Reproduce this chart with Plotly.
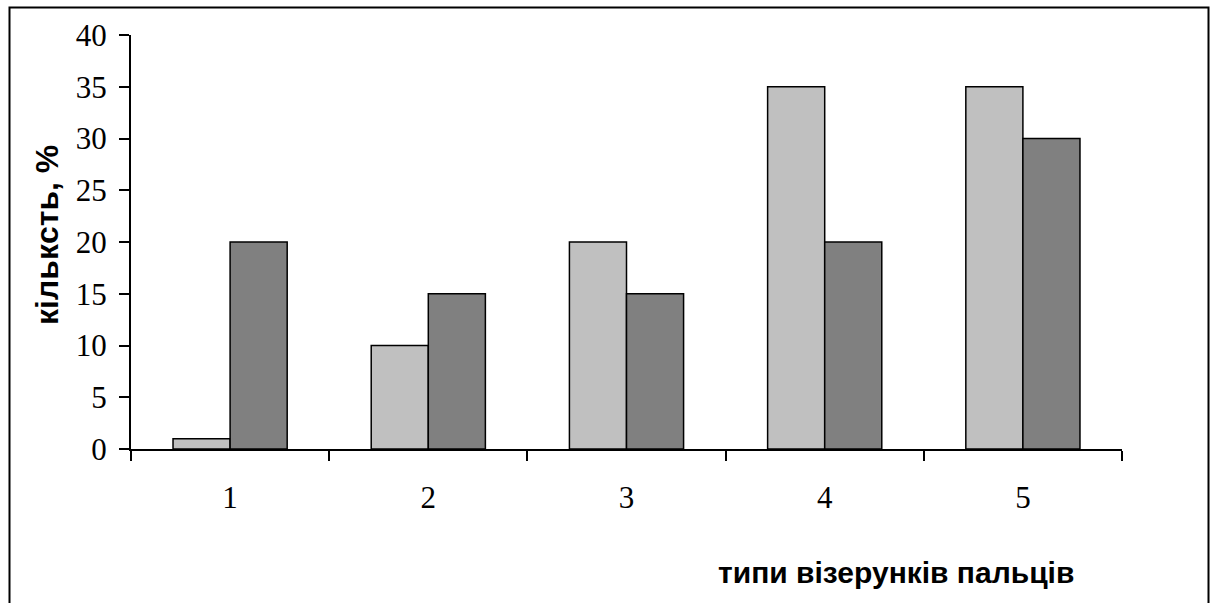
import plotly.graph_objects as go

categories = ["1", "2", "3", "4", "5"]
series_light = [1, 10, 20, 35, 35]
series_dark = [20, 15, 15, 20, 30]
y_ticks = [0, 5, 10, 15, 20, 25, 30, 35, 40]

W, H = 1212, 603
L, R, T, B = 131, 90, 35, 154
pw, ph = W - L - R, H - T - B

fig = go.Figure()
fig.add_trace(go.Bar(x=categories, y=series_light, marker=dict(color="#C0C0C0", line=dict(color="black", width=1.5)), showlegend=False))
fig.add_trace(go.Bar(x=categories, y=series_dark, marker=dict(color="#808080", line=dict(color="black", width=1.5)), showlegend=False))

def px(x):
    return (x - L) / pw

def py(y):
    return (H - B - y) / ph

fig.add_shape(type="rect", xref="paper", yref="paper",
              x0=px(9.5), x1=px(1208.5), y0=py(620), y1=py(7.5),
              line=dict(color="black", width=2), fillcolor="rgba(0,0,0,0)", layer="below")

fig.update_layout(
    width=W, height=H,
    margin=dict(l=L, r=R, t=T, b=B, pad=0),
    paper_bgcolor="white", plot_bgcolor="white",
    barmode="group", bargap=0.424, bargroupgap=0,
    xaxis=dict(type="category", range=[-0.5, 4.5], showline=True, linecolor="black", linewidth=2,
               ticks="outside", tickson="boundaries", ticklen=10, tickwidth=2, tickcolor="black",
               showgrid=False, zeroline=False, ticklabelstandoff=20,
               tickfont=dict(family="Liberation Serif", size=31, color="black")),
    yaxis=dict(range=[0, 40], tickvals=y_ticks, showline=True, linecolor="black", linewidth=2,
               ticks="outside", ticklen=10, tickwidth=2, tickcolor="black",
               showgrid=False, zeroline=False, ticklabelstandoff=6,
               tickfont=dict(family="Liberation Serif", size=31, color="black")),
    annotations=[
        dict(text="<b>кількcть, %</b>", xref="paper", yref="paper", x=px(47), y=py(235),
             xanchor="center", yanchor="middle",
             textangle=-90, showarrow=False, font=dict(family="Liberation Sans", size=32, color="black")),
        dict(text="<b>типи візерунків пальців</b>", xref="paper", yref="paper", x=px(896), y=py(572),
             xanchor="center", yanchor="middle",
             showarrow=False, font=dict(family="Liberation Sans", size=30, color="black")),
    ],
)

fig.write_html("out.html")
